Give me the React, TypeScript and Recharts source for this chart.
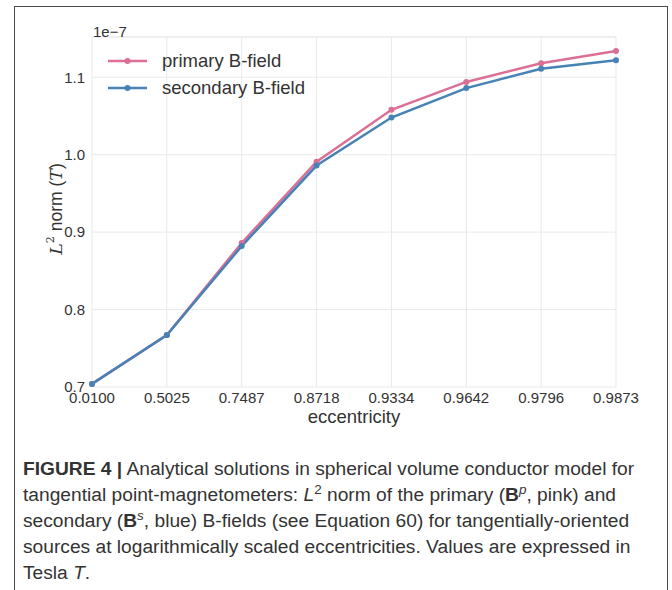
import React from 'react';
import { LineChart, Line, XAxis, YAxis, CartesianGrid, ReferenceLine } from 'recharts';

// eccentricities (categorical, equally spaced on the axis)
const eccentricities = ['0.0100', '0.5025', '0.7487', '0.8718', '0.9334', '0.9642', '0.9796', '0.9873'];
// L2 norm, in units of 1e-7 T
const primary = [0.704, 0.767, 0.886, 0.991, 1.058, 1.094, 1.118, 1.134];
const secondary = [0.704, 0.767, 0.882, 0.986, 1.048, 1.086, 1.111, 1.122];
const yTicks = [0.7, 0.8, 0.9, 1.0, 1.1];
const Y_MAX = 1.152;

const PINK = '#db6f96';
const BLUE = '#4682b6';
const GRID = '#e9e9e9';
const FONT = '"Liberation Sans", Arial, sans-serif';

const data = eccentricities.map((e, i) => ({ ecc: e, primary: primary[i], secondary: secondary[i] }));

const legendItems = [
  { label: 'primary B-field', color: PINK },
  { label: 'secondary B-field', color: BLUE },
];

const supStyle: React.CSSProperties = { fontSize: '0.7em', position: 'relative', top: '-0.55em', lineHeight: 0 };

const captionLines: React.ReactNode[] = [
  <><b>FIGURE 4 |</b> Analytical solutions in spherical volume conductor model for</>,
  <>tangential point-magnetometers: <i>L</i><span style={supStyle}>2</span> norm of the primary (<b>B</b><span style={supStyle}><i>p</i></span>, pink) and</>,
  <>secondary (<b>B</b><span style={supStyle}><i>s</i></span>, blue) B-fields (see Equation 60) for tangentially-oriented</>,
  <>sources at logarithmically scaled eccentricities. Values are expressed in</>,
  <>Tesla <i>T</i>.</>,
];

const App = () => (
  <div style={{ position: 'absolute', left: 0, top: 0, width: 672, height: 590, background: '#fff', overflow: 'hidden' }}>
    <div style={{ position: 'absolute', left: 14, top: 6, width: 652, height: 620, border: '1.5px solid #4a4a4a' }} />
    <div style={{ position: 'absolute', left: 0, top: 0 }}>
      <LineChart width={672} height={440} data={data} margin={{ top: 37, right: 56, bottom: 23, left: 32 }}>
        <CartesianGrid stroke={GRID} strokeWidth={1} />
        <ReferenceLine y={Y_MAX} stroke={GRID} strokeWidth={1} />
        <XAxis
          dataKey="ecc"
          scale="point"
          padding={{ left: 0, right: 0 }}
          axisLine={false}
          tickLine={false}
          tickSize={0}
          tickMargin={5}
          height={30}
          interval={0}
          tick={{ fontSize: 15, fill: '#333', fontFamily: FONT }}
        />
        <YAxis
          type="number"
          domain={[0.7, Y_MAX]}
          ticks={yTicks}
          tickFormatter={(v: number) => v.toFixed(1)}
          axisLine={false}
          tickLine={false}
          tickSize={0}
          tickMargin={7}
          width={60}
          tick={{ fontSize: 15, fill: '#333', fontFamily: FONT }}
        />
        <Line dataKey="primary" stroke={PINK} strokeWidth={2.5} dot={{ r: 3, fill: PINK, stroke: PINK, strokeWidth: 0 }} activeDot={false} isAnimationActive={false} />
        <Line dataKey="secondary" stroke={BLUE} strokeWidth={2.5} dot={{ r: 3, fill: BLUE, stroke: BLUE, strokeWidth: 0 }} activeDot={false} isAnimationActive={false} />
      </LineChart>
    </div>
    <svg width={672} height={440} style={{ position: 'absolute', left: 0, top: 0, pointerEvents: 'none' }}>
      <text x={93} y={37} fontSize={15} fill="#333" fontFamily={FONT}>1e−7</text>
      {legendItems.map((it, i) => (
        <g key={it.label} transform={`translate(108, ${61 + i * 27})`}>
          <line x1={0} x2={39} y1={0} y2={0} stroke={it.color} strokeWidth={2.5} />
          <circle cx={19.5} cy={0} r={3} fill={it.color} />
          <text x={54} y={0} dy="0.35em" fontSize={18.5} fill="#333" fontFamily={FONT}>{it.label}</text>
        </g>
      ))}
      <text x={354} y={423} textAnchor="middle" fontSize={18.5} fill="#333" fontFamily={FONT}>eccentricity</text>
      <text transform="translate(62, 209) rotate(-90)" textAnchor="middle" fontSize={17.5} fill="#333" fontFamily={FONT}>
        <tspan fontFamily='"DejaVu Serif", serif' fontStyle="italic">L</tspan>
        <tspan fontSize={11} dy={-8} fontFamily='"DejaVu Serif", serif'>2</tspan>
        <tspan dy={8}> norm (</tspan>
        <tspan fontFamily='"DejaVu Serif", serif' fontStyle="italic">T</tspan>
        <tspan>)</tspan>
      </text>
    </svg>
    <div style={{ position: 'absolute', left: 23, top: 456, fontFamily: FONT, fontSize: 19.2, color: '#333', lineHeight: '26px', whiteSpace: 'nowrap' }}>
      {captionLines.map((l, i) => (
        <div key={i} style={{ height: 26 }}>{l}</div>
      ))}
    </div>
  </div>
);

export default App;
